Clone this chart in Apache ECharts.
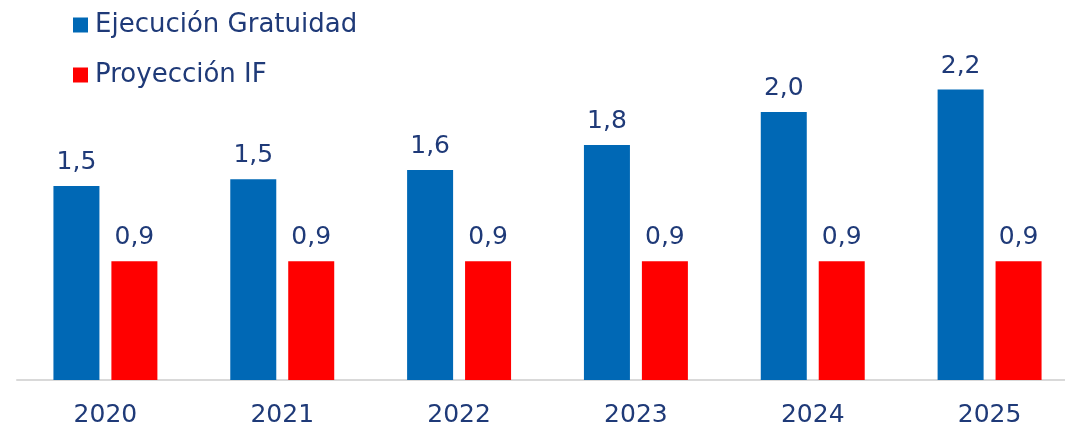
<!DOCTYPE html>
<html>
<head>
<meta charset="utf-8">
<script src="https://cdn.jsdelivr.net/npm/echarts@6/dist/echarts.min.js"></script>
<style>
  html, body { margin: 0; padding: 0; background: #fff; }
  #chart { width: 1065px; height: 427px; }
</style>
</head>
<body>
<div id="chart"></div>
<script>
// datos
const years = ['2020', '2021', '2022', '2023', '2024', '2025'];
const ejecucion = [1.47, 1.52, 1.59, 1.78, 2.03, 2.20];
const proyeccion = [0.9, 0.9, 0.9, 0.9, 0.9, 0.9];

const textColor = '#1F3A78';
const fontFam = '"DejaVu Sans", Verdana, sans-serif';

const fmt = p => p.value.toFixed(1).replace('.', ',');

const chart = echarts.init(document.getElementById('chart'));

chart.setOption({
    animation: false,
    legend: {
        orient: 'vertical',
        left: 68,
        top: 7,
        icon: 'rect',
        itemWidth: 15,
        itemHeight: 15,
        itemGap: 24,
        textStyle: { color: textColor, fontSize: 26, fontFamily: fontFam, padding: [0, 0, 0, 2] },
        data: ['Ejecución Gratuidad', 'Proyección IF']
    },
    grid: { left: 17, width: 1061, top: 63.2, bottom: 47, outerBoundsMode: 'none', containLabel: false },
    xAxis: {
        type: 'category',
        data: years,
        axisLine: { lineStyle: { color: '#D9D9D9', width: 2 } },
        axisTick: { show: false },
        axisLabel: { color: textColor, fontSize: 25, fontFamily: fontFam, margin: 23 }
    },
    yAxis: {
        type: 'value',
        min: 0,
        max: 2.4,
        show: false,
        splitLine: { show: false }
    },
    series: [
        {
            name: 'Ejecución Gratuidad',
            type: 'bar',
            data: ejecucion,
            barWidth: 46,
            barGap: '26%',
            itemStyle: { color: '#0068B5' },
            label: { show: true, position: 'top', distance: 11, formatter: fmt, color: textColor, fontSize: 25, fontFamily: fontFam }
        },
        {
            name: 'Proyección IF',
            type: 'bar',
            data: proyeccion,
            barWidth: 46,
            itemStyle: { color: '#FF0000' },
            label: { show: true, position: 'top', distance: 11, formatter: fmt, color: textColor, fontSize: 25, fontFamily: fontFam }
        }
    ]
});
</script>
</body>
</html>
